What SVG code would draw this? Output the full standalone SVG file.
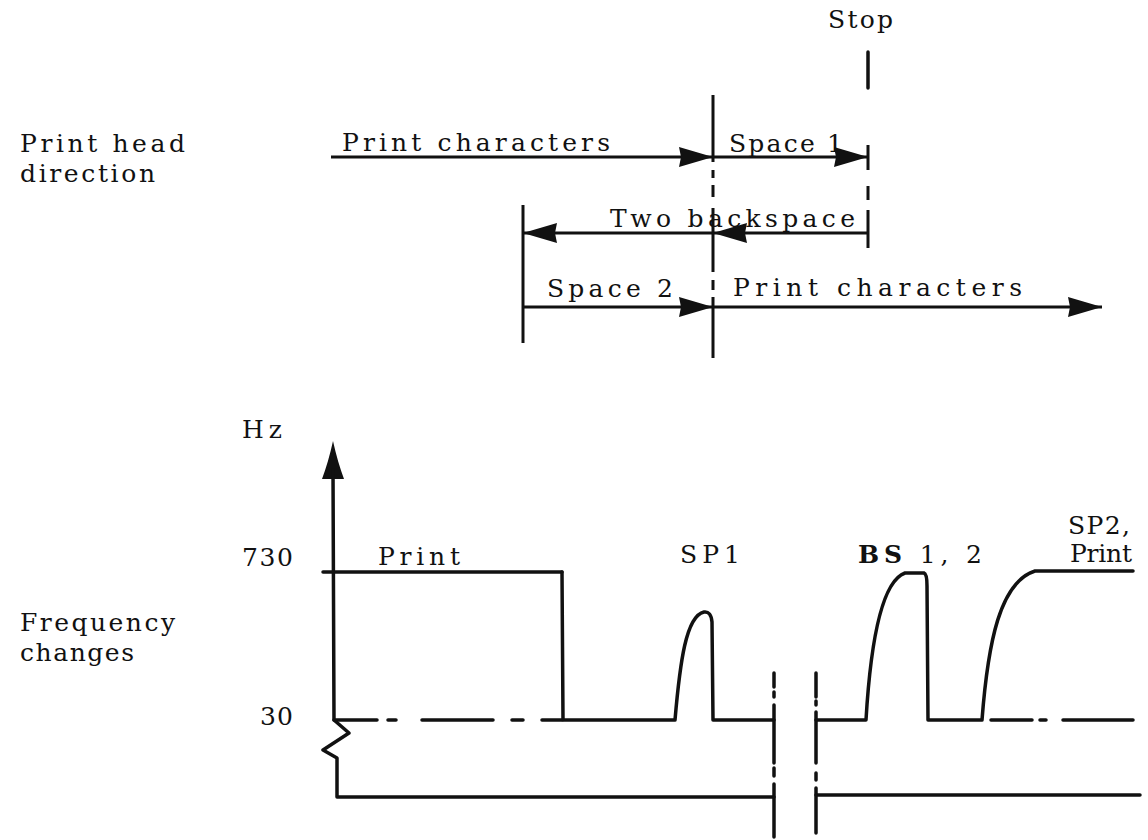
<svg xmlns="http://www.w3.org/2000/svg" width="1148" height="840" viewBox="0 0 1148 840">
<style>
text{font-family:"DejaVu Serif","Liberation Serif",serif;font-size:25px;fill:#111}
.ln{stroke:#111;stroke-width:3;fill:none;stroke-linecap:butt;stroke-linejoin:round}
.th{stroke:#111;stroke-width:3.5;fill:none;stroke-linecap:round;stroke-linejoin:round}
.ar{marker-end:url(#ah)}
</style>
<defs>
<marker id="ah" markerUnits="userSpaceOnUse" markerWidth="36" markerHeight="22" refX="34" refY="11" orient="auto">
<path d="M0,1 L34,11 L0,21 L2,11 Z" fill="#111"/>
</marker>
</defs>
<rect width="1148" height="840" fill="#fff"/>

<g id="labels-left">
<text x="20" y="152" textLength="165" lengthAdjust="spacing">Print head</text>
<text x="20" y="182" textLength="135" lengthAdjust="spacing">direction</text>
<text x="20" y="631" textLength="155" lengthAdjust="spacing">Frequency</text>
<text x="20" y="661" textLength="114" lengthAdjust="spacing">changes</text>
</g>

<g id="stop">
<text x="828" y="28" textLength="65" lengthAdjust="spacing">Stop</text>
<line class="th" x1="868" y1="52" x2="868" y2="88"/>
</g>

<g id="direction-texts">
<text x="342" y="151" textLength="268" lengthAdjust="spacing">Print characters</text>
<text x="729" y="152" textLength="114" lengthAdjust="spacing">Space 1</text>
<text x="610" y="227" textLength="245" lengthAdjust="spacing">Two backspace</text>
<text x="547" y="297" textLength="126" lengthAdjust="spacing">Space 2</text>
<text x="733" y="296" textLength="289" lengthAdjust="spacing">Print characters</text>
</g>

<g id="direction-marks">
<path class="ln" d="M713 95 V162 M713 170 V178 M713 185 V197 M713 208 V272 M713 280 V290 M713 297 V358"/>
<path class="ln" d="M868 145 V170 M868 186 V200 M868 210 V248"/>
<line class="ln" x1="523" y1="205" x2="523" y2="343"/>
</g>

<g id="direction-arrows">
<line class="ln ar" x1="331" y1="157" x2="713" y2="157"/>
<line class="ln ar" x1="713" y1="157" x2="868" y2="157"/>
<line class="ln ar" x1="868" y1="233" x2="713" y2="233"/>
<line class="ln ar" x1="713" y1="233" x2="523" y2="233"/>
<line class="ln ar" x1="523" y1="307" x2="713" y2="307"/>
<line class="ln ar" x1="713" y1="307" x2="1102" y2="307"/>
</g>

<g id="axis">
<text x="242" y="438" textLength="40" lengthAdjust="spacing">Hz</text>
<text x="242" y="566" textLength="51" lengthAdjust="spacing">730</text>
<text x="260" y="725" textLength="33" lengthAdjust="spacing">30</text>
<path d="M333,441 C336,455 340,468 344,479 L322,479 C326,468 330,455 333,441 Z" fill="#111"/>
<path class="th" d="M333 470 L334 720 L349 733 L323 750 L337 758 L337 797 L774 797"/>
<path class="th" d="M816 795 L1140 795"/>
<path class="th" d="M323 572 L562 572"/>
</g>

<g id="curve">
<text x="378" y="565" textLength="82" lengthAdjust="spacing">Print</text>
<text x="680" y="563" textLength="60" lengthAdjust="spacing">SP1</text>
<text x="858" y="563" textLength="124" lengthAdjust="spacing"><tspan font-weight="bold">BS</tspan> 1, 2</text>
<text x="1068" y="534" textLength="62" lengthAdjust="spacing">SP2,</text>
<text x="1070" y="562" textLength="62" lengthAdjust="spacing">Print</text>
<path class="th" d="M562 572 L563 720 L675 720 C680 662 686 616 704 612 Q711 611 712 622 L713 720 L774 720"/>
<path class="th" d="M816 720 L866 720 C870 652 880 582 905 573 L924 573 Q927 574 927 586 L928 720 L982 720 C988 642 1000 582 1035 571 L1133 571"/>
<path class="th" d="M334 720 L377 720 M388 720 L396 720 M422 720 L493 720 M512 720 L523 720 M542 720 L562 720"/>
<path class="th" d="M991 720 L1032 720 M1040 720 L1046 720 M1063 720 L1133 720"/>
</g>

<g id="break">
<path class="th" d="M774 673 V687 M774 692 V697 M774 705 V763 M774 768 V776 M774 784 V837"/>
<path class="th" d="M816 673 V697 M816 701 V705 M816 712 V763 M816 773 V780 M816 788 V833"/>
</g>
</svg>
